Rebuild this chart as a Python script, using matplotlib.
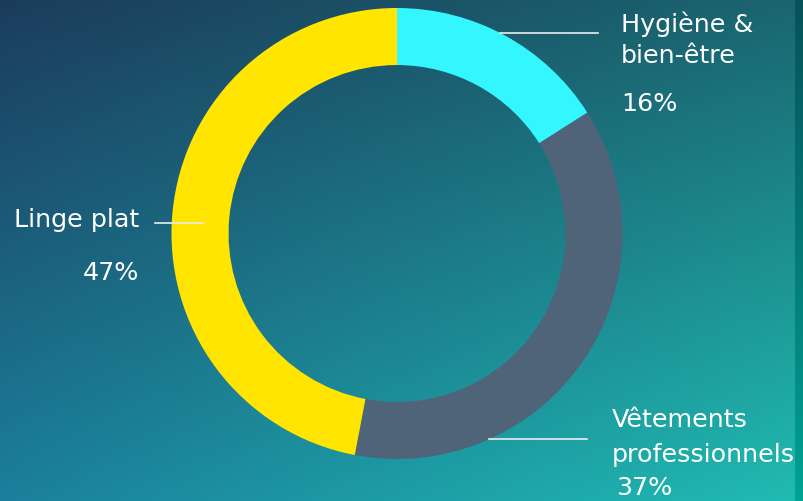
import matplotlib.pyplot as plt
import numpy as np
from matplotlib.colors import to_rgb

# data
categories = ["Hygiène &\nbien-être", "Vêtements\nprofessionnels", "Linge plat"]
shares = [16, 37, 47]
colors = ["#33F6FF", "#4F6479", "#FFE500"]

W, H = 804, 501
fig = plt.figure(figsize=(W / 100, H / 100), dpi=100)
ax = fig.add_axes([0, 0, 1, 1])

# background gradient (4 corners, bilinear)
tl, tr = np.array(to_rgb("#1c3c5c")), np.array(to_rgb("#1a6670"))
bl, br = np.array(to_rgb("#1b809c")), np.array(to_rgb("#20bcb2"))
u = np.linspace(0, 1, W)[None, :, None]
v = np.linspace(0, 1, H)[:, None, None]
bg = (1 - v) * ((1 - u) * tl + u * tr) + v * ((1 - u) * bl + u * br)
ax.imshow(bg, extent=(0, W, 0, H), origin="upper", zorder=0, aspect="auto")

# dark stripe at right edge
s_top, s_bot = np.array(to_rgb("#075258")), np.array(to_rgb("#00a294"))
vs = np.linspace(0, 1, H)[:, None, None]
stripe = (1 - vs) * s_top + vs * s_bot
ax.imshow(stripe, extent=(795, W, 0, H), origin="upper", zorder=0.5, aspect="auto")

cx, cy, r = 397, H - 233.5, 225.5
ax.pie(shares, colors=colors, startangle=90, counterclock=False,
       radius=r, center=(cx, cy), frame=True,
       wedgeprops=dict(width=r * 0.253, linewidth=0, zorder=2))

ax.set_xlim(0, W)
ax.set_ylim(0, H)
ax.axis("off")

font = dict(color="white", fontsize=18.3, family="DejaVu Sans")
ln = dict(color="#e8eef0", lw=1.2, zorder=3)

# Hygiène
ax.plot([500, 598], [H - 33, H - 33], **ln)
ax.text(621, H - 32, categories[0].split("\n")[0], va="baseline", **font)
ax.text(621, H - 63, categories[0].split("\n")[1], va="baseline", **font)
ax.text(621, H - 111, f"{shares[0]}%", va="baseline", **font)

# Vêtements
ax.plot([489, 587], [H - 439, H - 439], **ln)
ax.text(612, H - 427, categories[1].split("\n")[0], va="baseline", **font)
ax.text(612, H - 462, categories[1].split("\n")[1], va="baseline", **font)
ax.text(616, H - 495, f"{shares[1]}%", va="baseline", **font)

# Linge plat
ax.plot([155, 203], [H - 223, H - 223], **ln)
ax.text(139, H - 227, categories[2], va="baseline", ha="right", **font)
ax.text(139, H - 280, f"{shares[2]}%", va="baseline", ha="right", **font)

fig.savefig("out.png", dpi=100)
